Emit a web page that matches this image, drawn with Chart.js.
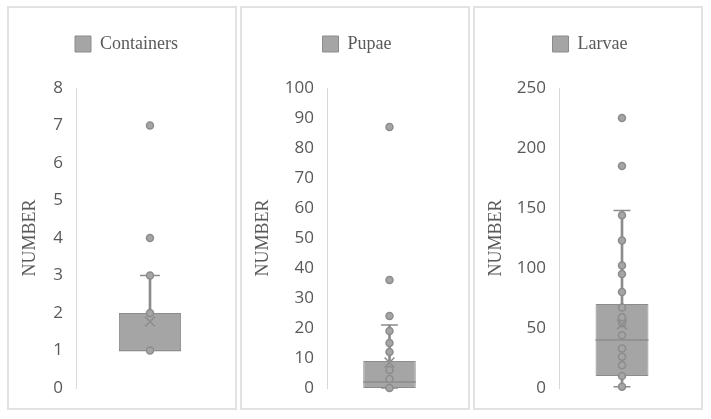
<!DOCTYPE html>
<html>
<head>
<meta charset="utf-8">
<script src="https://cdn.jsdelivr.net/npm/chart.js@4.4.1/dist/chart.umd.min.js"></script>
<style>
  body { margin: 0; background: #fff; }
  .panel { position: absolute; top: 6px; width: 230px; height: 404px; box-sizing: border-box; border: 2px solid #e2e2e2; }
  canvas { display: block; }
</style>
</head>
<body>
<div class="panel" style="left:7px"><canvas id="chartContainers" width="226" height="400"></canvas></div>
<div class="panel" style="left:240px"><canvas id="chartPupae" width="226" height="400"></canvas></div>
<div class="panel" style="left:473px"><canvas id="chartLarvae" width="226" height="400"></canvas></div>
<script>
// values
const panelNames = ['Containers', 'Pupae', 'Larvae'];
const yMax = [8, 100, 250];
const yStep = [1, 10, 50];
const boxLow = [1, 0, 10];      // Q1
const boxHigh = [2, 9, 70];     // Q3
const medians = [1, 2, 40];
const whiskerLow = [1, 0, 1];
const whiskerHigh = [3, 21, 148];
const means = [1.77, 8.5, 53];
const containerPoints = [1, 2, 3, 4, 7];
const pupaePoints = [0, 3, 6, 12, 15, 19, 24, 36, 87];
const larvaePoints = [1, 10, 19, 26, 33, 44, 54, 59, 67, 80, 95, 102, 123, 144, 185, 225];

const grey = '#a5a5a5';
const dark = '#8c8c8c';
const textCol = '#595959';

// extra room under the legend, and nudge it a bit to the right
const legendGap = {
  id: 'legendGap',
  beforeInit(chart) {
    const fit = chart.legend.fit;
    chart.legend.fit = function () {
      fit.bind(chart.legend)();
      this.height += 25;
    };
  },
  afterLayout(chart) {
    chart.legend.left += 10;
    chart.legend.right += 10;
  }
};

// median line and whisker caps, drawn right after the box
const boxLines = {
  id: 'boxLines',
  afterDatasetDraw(chart, args, opts) {
    if (args.index !== 1) return;
    const bar = args.meta.data[0];
    const y = chart.scales.y;
    const ctx = chart.ctx;
    const half = bar.width / 2;
    const cap = bar.width * 0.16;
    ctx.save();
    ctx.strokeStyle = dark;
    ctx.lineWidth = 1.5;
    ctx.beginPath();
    ctx.moveTo(bar.x - half, y.getPixelForValue(opts.median));
    ctx.lineTo(bar.x + half, y.getPixelForValue(opts.median));
    [opts.low, opts.high].forEach(function (v) {
      ctx.moveTo(bar.x - cap, y.getPixelForValue(v));
      ctx.lineTo(bar.x + cap, y.getPixelForValue(v));
    });
    ctx.stroke();
    ctx.restore();
  }
};

function makePanel(id, i, points, axisW, padRight) {
  const name = panelNames[i];
  new Chart(document.getElementById(id), {
    type: 'bar',
    data: {
      labels: [name],
      datasets: [
        {
          label: 'whisker',
          data: [[whiskerLow[i], whiskerHigh[i]]],
          backgroundColor: dark,
          barThickness: 2,
          grouped: false,
          order: 3
        },
        {
          label: name,
          data: [[boxLow[i], boxHigh[i]]],
          backgroundColor: grey,
          borderColor: dark,
          borderWidth: 1,
          borderSkipped: false,
          barPercentage: 0.42,
          categoryPercentage: 1,
          grouped: false,
          order: 2
        },
        {
          type: 'line',
          label: 'points',
          data: points.map(v => ({ x: name, y: v })),
          showLine: false,
          pointRadius: 3.5,
          pointBackgroundColor: grey,
          pointBorderColor: dark,
          pointBorderWidth: 1.5,
          clip: false,
          order: 1
        },
        {
          type: 'line',
          label: 'mean',
          data: [{ x: name, y: means[i] }],
          showLine: false,
          pointStyle: 'crossRot',
          pointRadius: 7,
          pointBorderColor: dark,
          pointBorderWidth: 1.5,
          clip: false,
          order: 0
        }
      ]
    },
    options: {
      responsive: false,
      animation: false,
      devicePixelRatio: 1,
      events: [],
      layout: { autoPadding: false, padding: { top: 17, left: 0, right: padRight, bottom: 20 } },
      plugins: {
        legend: {
          position: 'top',
          labels: {
            filter: item => item.datasetIndex === 1,
            boxWidth: 16,
            boxHeight: 16,
            padding: 10,
            color: textCol,
            font: { family: 'Liberation Serif', size: 18 }
          }
        },
        tooltip: { enabled: false },
        boxLines: { median: medians[i], low: whiskerLow[i], high: whiskerHigh[i] }
      },
      scales: {
        x: { display: false },
        y: {
          min: 0,
          max: yMax[i],
          afterFit: scale => { scale.width = axisW; },
          ticks: {
            stepSize: yStep[i],
            padding: 13,
            color: textCol,
            font: { family: 'Open Sans', size: 17, lineHeight: 0.8 }
          },
          grid: { display: false, drawTicks: false },
          border: { display: true, color: '#d9d9d9', width: 1 },
          title: {
            display: true,
            text: 'NUMBER',
            color: textCol,
            font: { family: 'Liberation Serif', size: 18 },
            padding: { top: 10, bottom: 0 }
          }
        }
      }
    },
    plugins: [legendGap, boxLines]
  });
}

makePanel('chartContainers', 0, containerPoints, 67, 11);
makePanel('chartPupae', 1, pupaePoints, 85, 16);
makePanel('chartLarvae', 2, larvaePoints, 84, 16);
</script>
</body>
</html>
